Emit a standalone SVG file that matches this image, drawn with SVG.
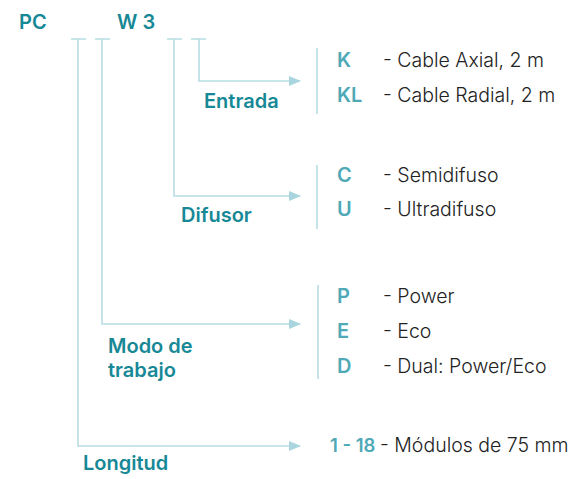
<svg xmlns="http://www.w3.org/2000/svg" width="578" height="479" viewBox="0 0 578 479">
<defs>
<style>
.ln{fill:none;stroke:#b7dde3;stroke-width:1.6}
.lbl{font-family:Inter,"Open Sans",sans-serif;font-weight:600;font-size:20px;fill:#178896}
.code{font-family:Inter,"Open Sans",sans-serif;font-weight:600;font-size:20px;fill:#4fa9b6}
.desc{font-family:Inter,"Open Sans",sans-serif;font-weight:300;font-size:19.5px;fill:#222}
</style>
<marker id="ah" viewBox="0 0 12 10" refX="11" refY="5" markerWidth="12" markerHeight="10" markerUnits="userSpaceOnUse" orient="auto">
<path d="M0,0 L12,5 L0,10 Z" fill="#a9d6de"/>
</marker>
</defs>
<rect width="578" height="479" fill="#fff"/>
<g id="header">
<text class="lbl" x="19" y="29">PC</text>
<text class="lbl" x="117" y="29">W 3</text>
<path class="ln" d="M71,39H86M95,39H110M167,39H182M191,39H206"/>
</g>
<g id="connectors">
<path class="ln" d="M199,39V81H300" marker-end="url(#ah)"/>
<path class="ln" d="M174,39V196H300" marker-end="url(#ah)"/>
<path class="ln" d="M102,39V324H300" marker-end="url(#ah)"/>
<path class="ln" d="M78,39V446H300" marker-end="url(#ah)"/>
</g>
<g id="entrada">
<text class="lbl" x="204" y="108">Entrada</text>
<path class="ln" d="M317,48V114"/>
<text class="code" x="337" y="67">K</text>
<text class="desc" x="383" y="67">- Cable Axial, 2 m</text>
<text class="code" x="337" y="102">KL</text>
<text class="desc" x="383" y="102">- Cable Radial, 2 m</text>
</g>
<g id="difusor">
<text class="lbl" x="181" y="222">Difusor</text>
<path class="ln" d="M317,165V229"/>
<text class="code" x="337" y="182">C</text>
<text class="desc" x="383" y="182">- Semidifuso</text>
<text class="code" x="337" y="216">U</text>
<text class="desc" x="383" y="216">- Ultradifuso</text>
</g>
<g id="modo">
<text class="lbl" x="108" y="353">Modo de</text>
<text class="lbl" x="108" y="377">trabajo</text>
<path class="ln" d="M318,285V379"/>
<text class="code" x="337" y="303">P</text>
<text class="desc" x="383" y="303">- Power</text>
<text class="code" x="337" y="338">E</text>
<text class="desc" x="383" y="338">- Eco</text>
<text class="code" x="337" y="373">D</text>
<text class="desc" x="383" y="373">- Dual: Power/Eco</text>
</g>
<g id="longitud">
<text class="lbl" x="83" y="470">Longitud</text>
<text class="code" x="330" y="452" style="font-size:18.5px">1 - 18</text>
<text class="desc" x="380" y="452">- Módulos de 75 mm</text>
</g>
</svg>
